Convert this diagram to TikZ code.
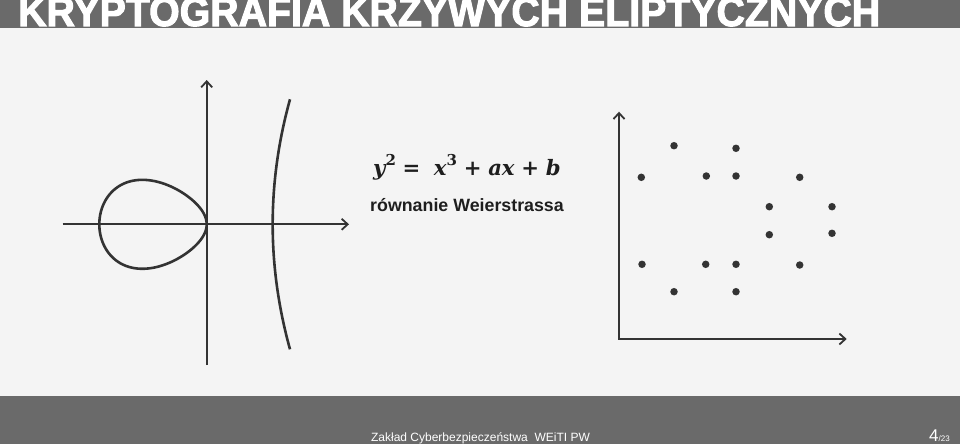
\documentclass[tikz,border=0pt]{standalone}
\usepackage{fontspec}
\setmainfont{Liberation Sans}
\newfontfamily\eqfont{DejaVu Serif}
\newfontfamily\titlefont[FakeBold=2.5]{Liberation Sans Bold}
\usetikzlibrary{arrows.meta}
\definecolor{bar}{HTML}{6A6A6A}
\definecolor{bg}{HTML}{F4F4F4}
\definecolor{ink}{HTML}{333333}
\definecolor{txt}{HTML}{1E1E1E}
\newcommand\myvar[1]{{\bfseries\itshape #1}}
\newcommand\mysup[1]{\raisebox{0.45em}{\fontsize{15}{15}\selectfont\bfseries #1}}
\newcommand\myop[1]{{\bfseries #1}}
\begin{document}
\begin{tikzpicture}[x=1pt,y=-1pt,
  barb/.tip={Straight Barb[length=6pt,width=11pt,line width=1.8pt]},
  axis/.style={draw=ink, line width=1.8pt},
  curve/.style={draw=ink, line width=2.6pt},
  dot/.style={circle, fill=ink, inner sep=0pt, minimum size=7.5pt},
  lbl/.style={anchor=base west, inner sep=0pt}]
\useasboundingbox (0,0) rectangle (960,444);
\clip (0,0) rectangle (960,444);
\fill[bg] (0,0) rectangle (960,444);
\fill[bar] (0,0) rectangle (960,28);
\fill[bar] (0,396) rectangle (960,444);
% title
\node[lbl, text=white] (title) at (18,26)
  {\resizebox{862pt}{29pt}{\titlefont KRYPTOGRAFIA KRZYWYCH ELIPTYCZNYCH}};
% footer
\node[anchor=base, inner sep=0pt, text=white, font=\fontsize{12}{14}\selectfont] (footer) at (480.5,441)
  {Zakład Cyberbezpieczeństwa\ \ WEiTI PW};
\node[lbl, text=white] (page) at (929,441)
  {\fontsize{17}{17}\selectfont 4\fontsize{8}{8}\selectfont/23};
% left plot
\coordinate (lx0) at (62.7,224.3);
\coordinate (lx1) at (349,224.3);
\coordinate (ly0) at (206.7,365);
\coordinate (ly1) at (206.7,80);
\draw[axis,-barb] (lx0) -- (lx1);
\draw[axis,-barb] (ly0) -- (ly1);
\draw[curve] plot[domain=0:360, samples=145, smooth, variable=\tt]
  ({99.3+53.7*(1-cos(\tt))}, {224.3+53.7*sin(\tt)*sqrt(0.00548*(173.4-53.7*(1-cos(\tt))))});
\coordinate (rb0) at (290,99.3);
\coordinate (rb1) at (290,349.3);
\draw[curve] (rb0) .. controls (266.9,182.6) and (266.9,266) .. (rb1);
% equation
\node[lbl, text=txt, font=\eqfont\fontsize{21.2}{25}\selectfont] (eq) at (373,175)
  {\myvar{y}\mysup{2} \myop{=}\ \ \myvar{x}\mysup{3} \myop{+} \myvar{ax} \myop{+} \myvar{b}};
\node[lbl, text=txt, font=\bfseries\fontsize{17.8}{20}\selectfont] (name) at (370,211.7)
  {równanie Weierstrassa};
% right plot
\coordinate (rc) at (619,339);
\coordinate (ry) at (619,111.7);
\coordinate (rx) at (846.7,339);
\draw[axis,barb-barb] (ry) -- (rc) -- (rx);
\foreach \n/\px/\py in {1/674/145.7, 2/736/148.3, 3/641.3/177.3, 4/706.3/176, 5/736/176,
  6/799.7/177.3, 7/769.3/206.7, 8/832/206.7, 9/769.3/234.7, 10/832/233.3,
  11/642/264.3, 12/705.7/264.3, 13/736/264.3, 14/799.7/265, 15/674/291.7, 16/736/291.7}
  \node[dot] (d\n) at (\px,\py) {};
\end{tikzpicture}
\end{document}
